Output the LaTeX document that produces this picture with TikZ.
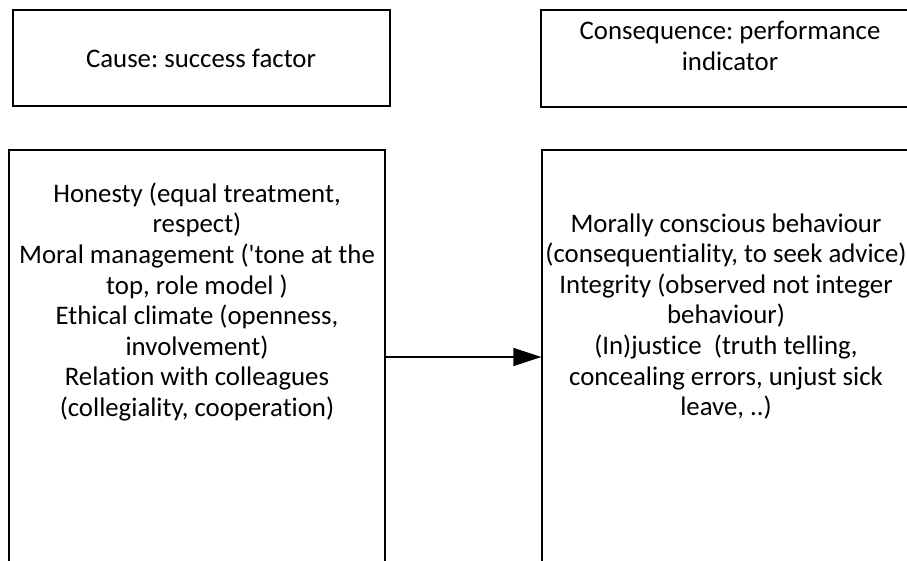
\documentclass[tikz,border=0pt]{standalone}
\usepackage{fontspec}
\setmainfont{Carlito}[Ligatures={NoCommon}]
\frenchspacing
\usetikzlibrary{arrows.meta}
\begin{document}
\begin{tikzpicture}[x=1pt,y=-1pt,
  frame/.style={draw=black,line width=1.3pt,fill=none,inner sep=0pt,minimum width=377pt},
  label/.style={align=center,inner sep=0pt,font=\fontsize{26.8}{30.6}\selectfont},
  link/.style={line width=1.3pt,-{Triangle[length=28pt,width=18pt]}}]
\useasboundingbox[fill=white] (0,0) rectangle (907,561);
% header boxes
\node[frame,minimum height=96pt] (causehead) at (201.5,58) {};
\node[frame,minimum height=97pt] (conshead) at (729.5,58.5) {};
\node[label] (causetitle) at (201,58) {Cause: success factor};
\node[label] (constitle) at (730,46) {Consequence: performance\\indicator};
% content boxes
\node[frame,minimum width=376pt,minimum height=414pt] (causebox) at (197,357) {};
\node[frame,minimum width=376pt,minimum height=414pt] (consbox) at (730,357) {};
\node[label] (causetext) at (197,302) {Honesty (equal treatment,\\respect)\\Moral management (\textquotesingle tone at the\\top, role model )\\Ethical climate (openness,\\involvement)\\Relation with colleagues\\(collegiality, cooperation)};
\node[label] (constext) at (726,316.5) {Morally conscious behaviour\\(consequentiality, to seek advice)\\Integrity (observed not integer\\behaviour)\\(In)justice\ \ (truth telling,\\concealing errors, unjust sick\\leave, ..)};
% cause leads to consequence
\draw[link] (causebox.east) -- (consbox.west);
\end{tikzpicture}
\end{document}
